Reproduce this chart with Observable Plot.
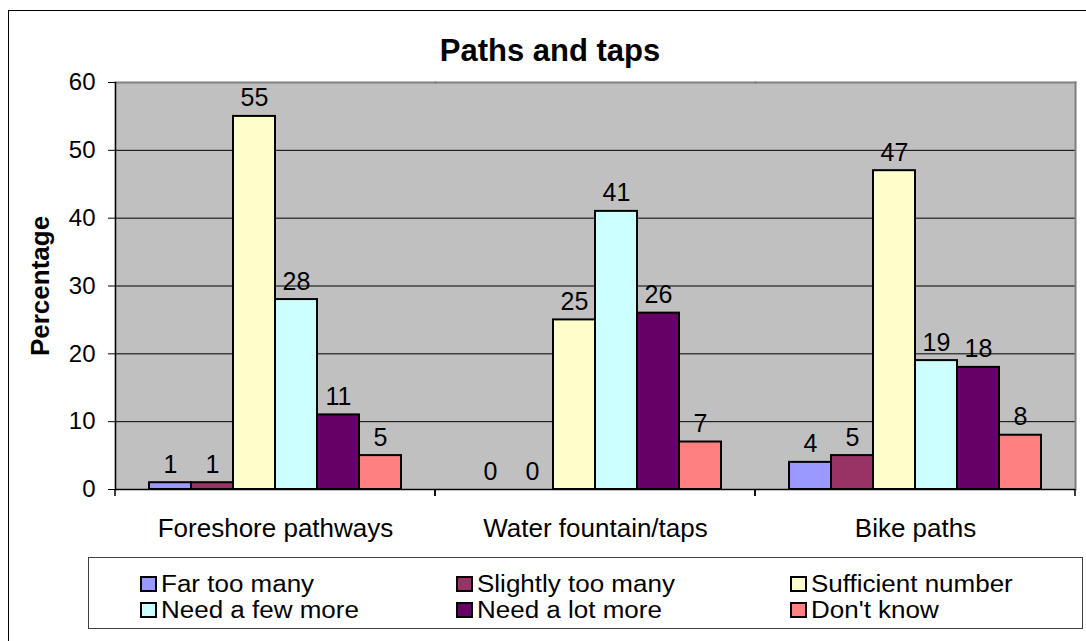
<!DOCTYPE html>
<html>
<head>
<meta charset="utf-8">
<script src="https://cdn.jsdelivr.net/npm/d3@7"></script>
<script src="https://cdn.jsdelivr.net/npm/@observablehq/plot@0.6"></script>
<style>
  html, body { margin: 0; padding: 0; background: #fff; overflow: hidden; }
  body { width: 1086px; height: 641px; position: relative; font-family: Arial, "Liberation Sans", sans-serif; color: #000; }
  #border { position: absolute; left: 8px; top: 10px; width: 1100px; height: 660px; border: 1px solid #000; box-sizing: border-box; }
  #title { position: absolute; left: 0; width: 1100px; top: 36px; text-align: center; font-size: 31px; font-weight: bold; line-height: 30px; }
  #chart { position: absolute; left: 0; top: 0; }
  #chart svg { font-family: Arial, "Liberation Sans", sans-serif; overflow: visible; }
  #legend { position: absolute; left: 88px; top: 557px; width: 995px; height: 72px; border: 1px solid #404040; box-sizing: border-box; background: #fff; }
  .item { position: absolute; height: 24px; white-space: nowrap; display: flex; align-items: center; }
  .sw { width: 13px; height: 12px; border: 2px solid #000; margin-right: 4px; display: inline-block; flex: none; }
  .lt { font-size: 23px; line-height: 24px; display: inline-block; transform: scaleX(1.13); transform-origin: left center; }
</style>
</head>
<body>
<div id="border"></div>
<div id="title">Paths and taps</div>
<div id="chart"></div>
<div id="legend"></div>
<script>
const groups = ["Foreshore pathways", "Water fountain/taps", "Bike paths"];
const series = ["Far too many", "Slightly too many", "Sufficient number", "Need a few more", "Need a lot more", "Don't know"];
const foreshorePathways = [1, 1, 55, 28, 11, 5];
const waterFountainTaps = [0, 0, 25, 41, 26, 7];
const bikePaths = [4, 5, 47, 19, 18, 8];
const colors = ["#9999FF", "#993366", "#FFFFCC", "#CCFFFF", "#660066", "#FF8080"];
const yTicks = [0, 10, 20, 30, 40, 50, 60];
const yTitle = "Percentage";

const valuesByGroup = [foreshorePathways, waterFountainTaps, bikePaths];
const data = groups.flatMap((g, gi) => series.map((s, si) => ({group: g, series: s, value: valuesByGroup[gi][si]})));

// category boundary ticks below the x axis (drawn at each facet's edges)
function boundaryTicks(index, scales, values, dimensions) {
  const {marginLeft, marginRight, marginBottom, width, height} = dimensions;
  const y = height - marginBottom;
  const g = d3.create("svg:g").attr("stroke", "#000").attr("stroke-width", 1.5);
  for (const x of [marginLeft, width - marginRight]) {
    g.append("line").attr("x1", x).attr("x2", x).attr("y1", y).attr("y2", y + 7);
  }
  return g.node();
}

const plot = Plot.plot({
  width: 1086,
  height: 545,
  marginLeft: 115,
  marginRight: 11,
  marginTop: 82,
  marginBottom: 56,
  style: {fontFamily: 'Arial, "Liberation Sans", sans-serif', color: "#000", background: "transparent"},
  fx: {domain: groups, padding: 0, label: null},
  x: {domain: series, paddingInner: 0, paddingOuter: 0.75, axis: null},
  y: {domain: [0, 60], label: null},
  color: {domain: series, range: colors},
  marks: [
    Plot.frame({fill: "#C0C0C0", stroke: null, insetLeft: -0.75, insetRight: -0.75}),
    Plot.gridY({ticks: yTicks.filter(t => t > 0 && t < 60), stroke: "#000", strokeOpacity: 1, strokeWidth: 1}),
    Plot.frame({anchor: "top", stroke: "#808080", strokeWidth: 2}),
    Plot.frame({anchor: "right", stroke: "#808080", strokeWidth: 2, facetAnchor: "right"}),
    Plot.barY(data, {fx: "group", x: "series", y: "value", fill: "series", stroke: "#000", strokeWidth: 2}),
    Plot.text(data, {fx: "group", x: "series", y: "value", text: d => String(d.value), lineAnchor: "bottom", dy: -10, fontSize: 25, fill: "#000"}),
    Plot.ruleY([0], {stroke: "#000", strokeWidth: 1.5}),
    Plot.axisY({ticks: yTicks, tickSize: 7, tickPadding: 13, fontSize: 24, label: null, stroke: "#000", strokeWidth: 1}),
    Plot.frame({anchor: "left", stroke: "#000", strokeWidth: 1.5, facetAnchor: "left"}),
    Plot.text([yTitle], {frameAnchor: "left", textAnchor: "middle", lineAnchor: "middle", rotate: -90, dx: -75, fontSize: 26, fontWeight: "bold", fill: "#000", facetAnchor: "left"}),
    boundaryTicks,
    Plot.axisFx({anchor: "bottom", tickSize: 0, tickPadding: 29, fontSize: 26, label: null})
  ]
});
document.getElementById("chart").appendChild(plot);

// Legend (HTML)
const legend = document.getElementById("legend");
const colX = [51, 367, 701];
const rowY = [14, 40];
series.forEach((s, i) => {
  const it = document.createElement("div");
  it.className = "item";
  it.style.left = colX[i % 3] + "px";
  it.style.top = rowY[Math.floor(i / 3)] + "px";
  const sw = document.createElement("span");
  sw.className = "sw";
  sw.style.background = colors[i];
  const tx = document.createElement("span");
  tx.className = "lt";
  tx.textContent = s;
  it.appendChild(sw);
  it.appendChild(tx);
  legend.appendChild(it);
});
</script>
</body>
</html>
